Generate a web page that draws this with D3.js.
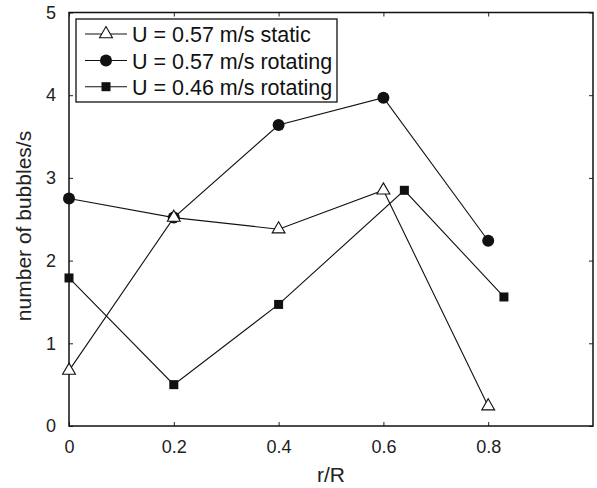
<!DOCTYPE html>
<html>

<head>
    <meta charset="utf-8">
    <style>
        body {
            margin: 0;
            background: #fff;
        }

        svg {
            font-family: 'Liberation Sans', Arial, sans-serif;
        }
    </style>
</head>

<body>
    <svg width="597" height="488"></svg>
</body>

<script src="https://d3js.org/d3.v7.min.js"></script>

<script>
    //------------------------DATA------------------------//
    let xStatic = [0, 0.2, 0.4, 0.6, 0.8];
    let staticVals = [0.67, 2.52, 2.38, 2.85, 0.24];

    let xRot057 = [0, 0.2, 0.4, 0.6, 0.8];
    let rot057Vals = [2.75, 2.52, 3.64, 3.97, 2.24];

    let xRot046 = [0, 0.2, 0.4, 0.64, 0.83];
    let rot046Vals = [1.79, 0.50, 1.47, 2.85, 1.56];

    let xTicks = [0, 0.2, 0.4, 0.6, 0.8];
    let yTicks = [0, 1, 2, 3, 4, 5];

    let seriesNames = ["U = 0.57 m/s static", "U = 0.57 m/s rotating", "U = 0.46 m/s rotating"];

    //------------------------SETUP------------------------//
    let svg = d3.select("svg");
    let margin = {top: 12.5, right: 4, bottom: 62, left: 69};
    let width = 597 - margin.left - margin.right;
    let height = 488 - margin.top - margin.bottom;

    let g = svg.append("g")
        .attr("transform", "translate(" + margin.left + "," + margin.top + ")");

    let x = d3.scaleLinear().domain([0, 1]).range([0, width]);
    let y = d3.scaleLinear().domain([0, 5]).range([height, 0]);

    //------------------------AXES------------------------//
    let fmt = d => d === 0 ? "0" : d3.format(".1f")(d);

    let xAxis = g.append("g")
        .attr("transform", "translate(0," + height + ")")
        .call(d3.axisBottom(x).tickValues(xTicks).tickFormat(fmt).tickSizeInner(-4).tickSizeOuter(0).tickPadding(14));

    let yAxis = g.append("g")
        .call(d3.axisLeft(y).tickValues(yTicks).tickFormat(d3.format("d")).tickSizeInner(-4).tickSizeOuter(0).tickPadding(13));

    let topAxis = g.append("g")
        .call(d3.axisTop(x).tickValues(xTicks).tickFormat("").tickSizeInner(-4).tickSizeOuter(0));

    let rightAxis = g.append("g")
        .attr("transform", "translate(" + width + ",0)")
        .call(d3.axisRight(y).tickValues(yTicks).tickFormat("").tickSizeInner(-4).tickSizeOuter(0));

    [xAxis, yAxis, topAxis, rightAxis].forEach(a => {
        a.select(".domain").remove();
        a.selectAll("line").attr("stroke", "#222").attr("stroke-width", 1);
        a.selectAll("text").attr("fill", "#222").style("font-size", "18px");
    });

    // frame
    g.append("rect")
        .attr("width", width)
        .attr("height", height)
        .attr("fill", "none")
        .attr("stroke", "#111")
        .attr("stroke-width", 1.5);

    // axis labels
    svg.append("text")
        .attr("x", margin.left + width / 2)
        .attr("y", 482)
        .attr("text-anchor", "middle")
        .style("font-size", "21px")
        .attr("fill", "#222")
        .text("r/R");

    svg.append("text")
        .attr("transform", "translate(31,226) rotate(-90)")
        .attr("text-anchor", "middle")
        .style("font-size", "21px")
        .attr("fill", "#222")
        .text("number of bubbles/s");

    //------------------------LINES & MARKERS------------------------//
    let line = d3.line()
        .x(d => x(d[0]))
        .y(d => y(d[1]));

    let staticData = d3.zip(xStatic, staticVals);
    let rot057Data = d3.zip(xRot057, rot057Vals);
    let rot046Data = d3.zip(xRot046, rot046Vals);

    let triangle = d3.symbol().type(d3.symbolTriangle).size(72);

    [staticData, rot057Data, rot046Data].forEach(data => {
        g.append("path")
            .attr("d", line(data))
            .attr("fill", "none")
            .attr("stroke", "#111")
            .attr("stroke-width", 1.1);
    });

    // squares
    g.selectAll(".sq")
        .data(rot046Data)
        .join("rect")
        .attr("class", "sq")
        .attr("x", d => x(d[0]) - 4.5)
        .attr("y", d => y(d[1]) - 4.5)
        .attr("width", 9)
        .attr("height", 9)
        .attr("fill", "#111");

    // circles
    g.selectAll(".dot")
        .data(rot057Data)
        .join("circle")
        .attr("class", "dot")
        .attr("cx", d => x(d[0]))
        .attr("cy", d => y(d[1]))
        .attr("r", 6)
        .attr("fill", "#111");

    // triangles
    g.selectAll(".tri")
        .data(staticData)
        .join("path")
        .attr("class", "tri")
        .attr("transform", d => "translate(" + x(d[0]) + "," + y(d[1]) + ")")
        .attr("d", triangle)
        .attr("fill", "#fff")
        .attr("stroke", "#111")
        .attr("stroke-width", 1.1);

    //------------------------LEGEND------------------------//
    let legend = svg.append("g");

    legend.append("rect")
        .attr("x", 76)
        .attr("y", 19)
        .attr("width", 261)
        .attr("height", 83)
        .attr("fill", "#fff")
        .attr("stroke", "#111")
        .attr("stroke-width", 1.3);

    let rowY = [34, 60.5, 86.7];

    seriesNames.forEach((name, i) => {
        let cy = rowY[i];
        legend.append("line")
            .attr("x1", 85).attr("x2", 127)
            .attr("y1", cy).attr("y2", cy)
            .attr("stroke", "#111")
            .attr("stroke-width", 1.1);

        if (i === 0) {
            legend.append("path")
                .attr("transform", "translate(106," + cy + ")")
                .attr("d", triangle)
                .attr("fill", "#fff")
                .attr("stroke", "#111")
                .attr("stroke-width", 1.1);
        } else if (i === 1) {
            legend.append("circle")
                .attr("cx", 106).attr("cy", cy).attr("r", 6)
                .attr("fill", "#111");
        } else {
            legend.append("rect")
                .attr("x", 106 - 4.5).attr("y", cy - 4.5)
                .attr("width", 9).attr("height", 9)
                .attr("fill", "#111");
        }

        legend.append("text")
            .attr("x", 132)
            .attr("y", cy + 8)
            .style("font-size", "21.5px")
            .attr("fill", "#111")
            .text(name);
    });
</script>

</html>
